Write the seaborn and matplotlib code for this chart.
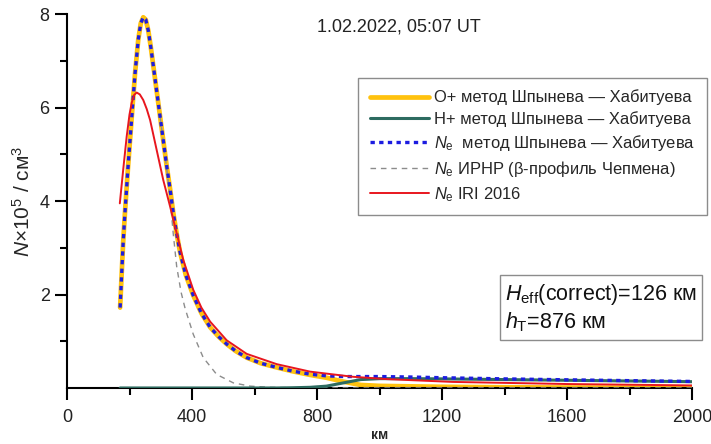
import matplotlib
matplotlib.use("Agg")
import matplotlib.pyplot as plt
import pandas as pd
import seaborn as sns
from matplotlib.ticker import FixedLocator

# Altitude grid of the Shpynev–Khabituev reconstruction, km
heights = [170, 175, 180, 185, 190, 195, 200, 205, 210, 218, 228, 236, 244, 252, 260,
           268, 276, 287, 298, 308, 319, 330, 340, 351, 362, 380, 404, 430, 458, 485,
           511, 540, 575, 620, 671, 720, 778, 830, 885, 940, 1000, 1100, 1200, 1400,
           1600, 1800, 2000]
# O+ density, 1e5 cm^-3
o_plus = [1.72, 2.45, 3.15, 3.7, 4.2, 4.7, 5.15, 5.6, 6.05, 6.75, 7.45, 7.8, 7.93, 7.88, 7.65,
          7.3, 6.9, 6.35, 5.8, 5.3, 4.75, 4.25, 3.75, 3.3, 2.9, 2.42, 1.98, 1.6, 1.3, 1.1,
          0.94, 0.79, 0.65, 0.53, 0.44, 0.36, 0.28, 0.22, 0.135, 0.065, 0.045, 0.035, 0.025,
          0.015, 0.01, 0.007, 0.005]
# H+ density, 1e5 cm^-3
h_plus = [0, 0, 0, 0, 0, 0, 0, 0, 0, 0, 0, 0, 0, 0, 0,
          0, 0, 0, 0, 0, 0, 0, 0, 0, 0, 0, 0, 0, 0, 0,
          0, 0, 0, 0, 0, 0.005, 0.015, 0.04, 0.11, 0.18, 0.2, 0.2, 0.195, 0.18,
          0.165, 0.15, 0.135]
# Electron density Ne = O+ + H+, 1e5 cm^-3
ne_sk = [1.72, 2.45, 3.15, 3.7, 4.2, 4.7, 5.15, 5.6, 6.05, 6.75, 7.45, 7.8, 7.93, 7.88, 7.65,
         7.3, 6.9, 6.35, 5.8, 5.3, 4.75, 4.25, 3.75, 3.3, 2.9, 2.42, 1.98, 1.6, 1.3, 1.1,
         0.94, 0.79, 0.65, 0.53, 0.44, 0.365, 0.295, 0.26, 0.245, 0.245, 0.245, 0.235, 0.22,
         0.195, 0.175, 0.157, 0.14]

# Beta-Chapman profile (IRNR), topside part
heights_chapman = [298, 308, 319, 330, 340, 351, 365, 378, 404, 436, 479, 532, 586,
                   650, 750, 900, 1200, 1600, 2000]
ne_chapman = [5.8, 5.28, 4.7, 4.05, 3.3, 2.6, 2.05, 1.7, 1.15, 0.65, 0.29, 0.11, 0.04,
              0.015, 0.004, 0.001, 0.0, 0.0, 0.0]

# IRI-2016 model profile
heights_iri = [169, 180, 191, 200, 207, 215, 223, 233, 244, 255, 266, 287, 308, 330, 351,
               372, 390, 404, 430, 458, 511, 575, 671, 778, 915, 1024, 1235, 1600, 2000]
ne_iri = [3.95, 4.68, 5.38, 5.85, 6.1, 6.27, 6.32, 6.28, 6.16, 5.97, 5.73, 5.09, 4.45, 3.88,
          3.31, 2.74, 2.38, 2.1, 1.72, 1.42, 1.02, 0.73, 0.51, 0.35, 0.24, 0.19, 0.13, 0.085,
          0.055]

x_ticks = [0, 400, 800, 1200, 1600, 2000]
y_ticks = [2, 4, 6, 8]

labels = [
    "О+ метод Шпынева — Хабитуева",
    "Н+ метод Шпынева — Хабитуева",
    "$N_{\\mathrm{e}}$  метод Шпынева — Хабитуева",
    "$N_{\\mathrm{e}}$ ИРНР (β-профиль Чепмена)",
    "$N_{\\mathrm{e}}$ IRI 2016",
]

sns.set_theme(style="ticks")
plt.rcParams["font.family"] = ["Liberation Sans", "DejaVu Sans"]
plt.rcParams["mathtext.fontset"] = "custom"
plt.rcParams["mathtext.rm"] = "Liberation Sans"
plt.rcParams["mathtext.it"] = "Liberation Sans:italic"
plt.rcParams["mathtext.bf"] = "Liberation Sans:bold"

sk = pd.DataFrame({"h": heights, "o": o_plus, "hp": h_plus, "ne": ne_sk})
ch = pd.DataFrame({"h": heights_chapman, "ne": ne_chapman})
iri = pd.DataFrame({"h": heights_iri, "ne": ne_iri})

fig = plt.figure(figsize=(7.11, 4.44), dpi=100)
ax = fig.add_axes([67 / 711, 56 / 444, 625 / 711, 374 / 444])

sns.lineplot(data=sk, x="h", y="o", ax=ax, color="#FFC20E", linewidth=3.4,
             label=labels[0], zorder=2, sort=False, estimator=None)
sns.lineplot(data=sk, x="h", y="hp", ax=ax, color="#2D6B60", linewidth=2.2,
             label=labels[1], zorder=4, sort=False, estimator=None)
sns.lineplot(data=sk, x="h", y="ne", ax=ax, color="#1C1CE0", linewidth=2.4,
             linestyle=(0, (1.3, 1.3)), label=labels[2], zorder=5, sort=False, estimator=None)
sns.lineplot(data=ch, x="h", y="ne", ax=ax, color="#8C8C8C", linewidth=1.0,
             linestyle=(0, (4, 3.5)), label=labels[3], zorder=3, sort=False, estimator=None)
sns.lineplot(data=iri, x="h", y="ne", ax=ax, color="#E8161E", linewidth=1.4,
             label=labels[4], zorder=6, sort=False, estimator=None)

ax.set_xlim(0, 2000)
ax.set_ylim(0, 8)
ax.xaxis.set_major_locator(FixedLocator(x_ticks))
ax.xaxis.set_minor_locator(FixedLocator([200, 600, 1000, 1400, 1800]))
ax.yaxis.set_major_locator(FixedLocator(y_ticks))
ax.yaxis.set_minor_locator(FixedLocator([1, 3, 5, 7]))
ax.set_xticklabels([str(v) for v in x_ticks])
ax.set_yticklabels([str(v) for v in y_ticks])

for side in ("top", "right"):
    ax.spines[side].set_visible(False)
for side in ("left", "bottom"):
    ax.spines[side].set_linewidth(1.5)
    ax.spines[side].set_color("black")
ax.tick_params(axis="both", which="major", length=8.5, width=1.5, color="black",
               labelsize=13, labelcolor="#222222")
ax.tick_params(axis="both", which="minor", length=5, width=1.5, color="black")
ax.tick_params(axis="x", which="major", pad=6.5)
ax.tick_params(axis="y", which="major", pad=4)

ax.set_xlabel("км", fontsize=10, fontweight="bold")
ax.xaxis.set_label_coords(0.5, -(428 - 388) / 374)
ax.set_ylabel("$N$×10$^{5}$ / см$^{3}$", fontsize=15, labelpad=4)

fig.text(399 / 711, 1 - 27 / 444, "1.02.2022, 05:07 UT", ha="center", va="center",
         fontsize=13, color="#222222")

leg = ax.legend(loc="upper right", bbox_to_anchor=(707 / 711, 1 - 78 / 444),
                bbox_transform=fig.transFigure, borderaxespad=0, fontsize=11.9,
                handlelength=3.6, handletextpad=0.3, labelspacing=0.36,
                borderpad=0.7, fancybox=False, framealpha=1, edgecolor="#8C8C8C")
leg.get_frame().set_linewidth(1.0)

fig.text(505 / 711, 1 - 282 / 444,
         "$H_{\\mathrm{eff}}$(correct)=126 км\n$h_{\\mathrm{T}}$=876 км",
         ha="left", va="top", fontsize=15.5, linespacing=1.2, color="#111111",
         bbox=dict(boxstyle="square,pad=0.25", facecolor="white", edgecolor="#8C8C8C",
                   linewidth=1.0))

fig.savefig("out.png", dpi=100)
